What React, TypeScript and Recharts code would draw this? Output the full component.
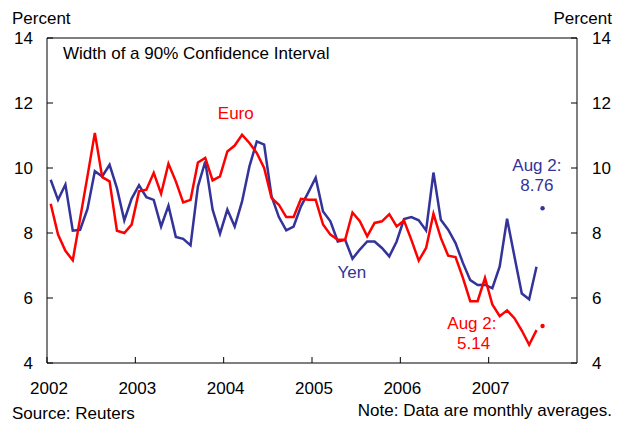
import React from "react";
import { LineChart, Line, XAxis, YAxis, ReferenceLine, ReferenceDot } from "recharts";

// monthly averages, Jan 2002 .. Jul 2007
const yen = [
  9.64, 9.02, 9.49, 8.07, 8.1, 8.74, 9.9, 9.74, 10.1, 9.38, 8.39, 9.06,
  9.47, 9.1, 9.02, 8.2, 8.84, 7.88, 7.82, 7.62, 9.43, 10.2, 8.72, 7.98,
  8.72, 8.2, 8.97, 10.05, 10.82, 10.72, 9.13, 8.49, 8.08, 8.2, 8.82, 9.25,
  9.7, 8.66, 8.36, 7.74, 7.79, 7.21, 7.49, 7.74, 7.74, 7.54, 7.28, 7.74,
  8.43, 8.49, 8.39, 8.08, 9.86, 8.41, 8.1, 7.69, 7.08, 6.55, 6.4, 6.41,
  6.3, 6.97, 8.44, 7.28, 6.14, 5.96, 6.96,
];
const euro = [
  8.9, 7.95, 7.45, 7.16, 8.45, 9.75, 11.08, 9.72, 9.59, 8.07, 8.0, 8.26,
  9.28, 9.33, 9.85, 9.21, 10.13, 9.59, 8.94, 9.02, 10.17, 10.31, 9.62, 9.74,
  10.51, 10.69, 11.02, 10.77, 10.46, 10.0, 9.08, 8.87, 8.49, 8.49, 9.05, 9.02,
  9.02, 8.26, 7.95, 7.79, 7.79, 8.63, 8.36, 7.9, 8.31, 8.36, 8.58, 8.2,
  8.38, 7.79, 7.15, 7.54, 8.59, 7.85, 7.3, 7.26, 6.62, 5.9, 5.9, 6.62,
  5.8, 5.44, 5.62, 5.38, 5.0, 4.56, 5.01,
];
const startYear = 2002;
const yearTicks = [2002, 2003, 2004, 2005, 2006, 2007];
const percentTicks = [4, 6, 8, 10, 12, 14];
const augDate = 2007.61;
const yenAug = 8.76;
const euroAug = 5.14;

const rows = yen.map((v, i) => ({ t: startYear + (i + 0.5) / 12, yen: v, euro: euro[i] }));
const augRows = [{ t: augDate, yenAug, euroAug }];

const FONT = '"Liberation Sans", Arial, sans-serif';
const BLUE = "#333399";
const RED = "#ff0000";
const TM = 10;

function BottomTick({ x, y, payload }: any) {
  const ay = y - TM;
  return (
    <g>
      <line x1={x} y1={ay} x2={x} y2={ay - 6} stroke="#000" />
      <text x={x + 2} y={ay + 31} textAnchor="middle" fontSize={17} fontFamily={FONT} fill="#000">
        {payload.value}
      </text>
    </g>
  );
}

function LeftTick({ x, y, payload }: any) {
  const ax = x + TM;
  return (
    <g>
      <line x1={ax} y1={y} x2={ax + 6} y2={y} stroke="#000" />
      <text x={ax - 14} y={y} dy="0.35em" textAnchor="end" fontSize={17} fontFamily={FONT} fill="#000">
        {payload.value}
      </text>
    </g>
  );
}

function RightTick({ x, y, payload }: any) {
  const ax = x - TM;
  return (
    <g>
      <line x1={ax} y1={y} x2={ax - 6} y2={y} stroke="#000" />
      <text x={ax + 15} y={y} dy="0.35em" textAnchor="start" fontSize={17} fontFamily={FONT} fill="#000">
        {payload.value}
      </text>
    </g>
  );
}

const note = (x: number, y: number, value: string, fill: string) => (
  <ReferenceDot
    key={value + y}
    yAxisId="left"
    x={x}
    y={y}
    r={0}
    fill="none"
    stroke="none"
    label={{ value, position: "center", fill, fontSize: 17, fontFamily: FONT }}
  />
);

export default function App() {
  return (
    <div style={{ position: "absolute", left: 0, top: 0, width: 621, height: 426, background: "#fff", fontFamily: FONT }}>
      <LineChart width={621} height={426} data={rows} margin={{ top: 38, right: 4, bottom: 33, left: 7 }}>
        <XAxis
          dataKey="t"
          type="number"
          domain={[2002, 2008]}
          allowDataOverflow
          ticks={yearTicks}
          tickSize={0}
          tickMargin={TM}
          tick={<BottomTick />}
          axisLine={{ stroke: "#000" }}
          height={30}
        />
        <YAxis
          yAxisId="left"
          domain={[4, 14]}
          allowDataOverflow
          ticks={percentTicks}
          tickSize={0}
          tickMargin={TM}
          tick={<LeftTick />}
          axisLine={{ stroke: "#000" }}
          width={40}
        />
        <YAxis
          yAxisId="right"
          orientation="right"
          domain={[4, 14]}
          allowDataOverflow
          ticks={percentTicks}
          tickSize={0}
          tickMargin={TM}
          tick={<RightTick />}
          axisLine={{ stroke: "#000" }}
          width={40}
        />
        <ReferenceLine yAxisId="left" y={14} stroke="#000" />
        <Line yAxisId="left" dataKey="yen" stroke={BLUE} strokeWidth={2.5} dot={false} isAnimationActive={false} />
        <Line yAxisId="left" dataKey="euro" stroke={RED} strokeWidth={2.5} dot={false} isAnimationActive={false} />
        <Line
          yAxisId="right"
          data={augRows}
          dataKey="yenAug"
          stroke="none"
          dot={{ r: 2.2, fill: BLUE, stroke: "none" }}
          isAnimationActive={false}
        />
        <Line
          yAxisId="right"
          data={augRows}
          dataKey="euroAug"
          stroke="none"
          dot={{ r: 2.2, fill: RED, stroke: "none" }}
          isAnimationActive={false}
        />
        {note(2004.137, 11.7, "Euro", RED)}
        {note(2005.45, 6.81, "Yen", BLUE)}
        {note(2007.546, 10.1, "Aug 2:", BLUE)}
        {note(2007.546, 9.49, "8.76", BLUE)}
        {note(2006.81, 5.24, "Aug 2:", RED)}
        {note(2006.83, 4.62, "5.14", RED)}
      </LineChart>
      <div style={{ position: "absolute", left: 12, top: 9, fontSize: 17, color: "#000" }}>Percent</div>
      <div style={{ position: "absolute", right: 9, top: 9, fontSize: 17, color: "#000" }}>Percent</div>
      <div style={{ position: "absolute", left: 63, top: 44, fontSize: 17, color: "#000" }}>
        Width of a 90% Confidence Interval
      </div>
      <div style={{ position: "absolute", left: 12, top: 404, fontSize: 17, color: "#000" }}>Source: Reuters</div>
      <div style={{ position: "absolute", right: 9, top: 401, fontSize: 17, color: "#000" }}>
        Note: Data are monthly averages.
      </div>
    </div>
  );
}
